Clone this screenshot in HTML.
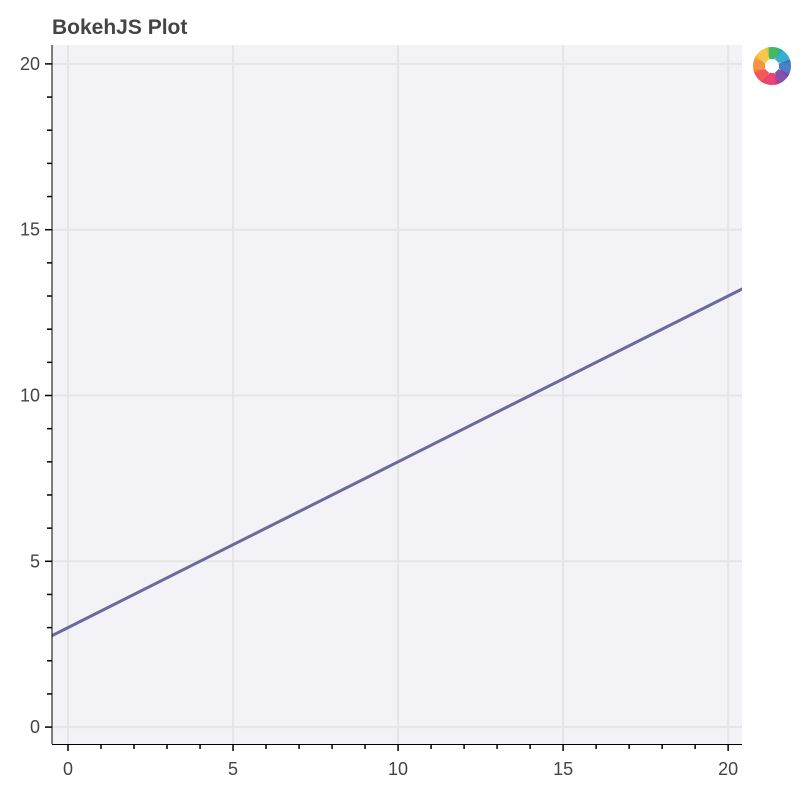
<!DOCTYPE html>
<html><head><meta charset="utf-8"><style>
html,body{margin:0;padding:0;background:#fff;width:808px;height:806px;overflow:hidden}
svg text{font-family:"Liberation Sans",sans-serif}
</style></head><body>
<svg id="c" width="808" height="806">
<text x="52" y="34" font-size="21" font-weight="bold" fill="#444">BokehJS Plot</text>
<rect x="52" y="45" width="690" height="699" fill="#f3f2f7"/>
<g id="grid"></g><g id="series"></g><g id="axes"></g>
<g id="logo" transform="translate(772,66)"></g>
</svg>
<script>
const xTicks=[0,5,10,15,20];
const yTicks=[0,5,10,15,20];
const xData=[-1,0,5,10,15,20,21];
const yData=[2.5,3,5.5,8,10.5,13,13.5];
const X0=52,X1=742,Y0=45,Y1=744;
const xMin=-0.485,xMax=20.42,yMin=-0.51,yMax=20.57;
const sx=v=>X0+(v-xMin)/(xMax-xMin)*(X1-X0);
const sy=v=>Y1-(v-yMin)/(yMax-yMin)*(Y1-Y0);
const NS="http://www.w3.org/2000/svg";
function mk(t,a,p){const e=document.createElementNS(NS,t);for(const k in a)e.setAttribute(k,a[k]);p.appendChild(e);return e;}
const grid=document.getElementById('grid'),axes=document.getElementById('axes'),ser=document.getElementById('series');
xTicks.forEach(v=>{const l=mk('line',{x1:sx(v),x2:sx(v),y1:Y0,y2:Y1,stroke:'#e5e5e5','stroke-width':2},grid);
});
yTicks.forEach(v=>{const l=mk('line',{x1:X0,x2:X1,y1:sy(v),y2:sy(v),stroke:'#e5e5e5','stroke-width':2},grid);
});
const cp=mk('clipPath',{id:'cp'},document.getElementById('c'));mk('rect',{x:X0,y:Y0,width:X1-X0,height:Y1-Y0},cp);
const pl=mk('polyline',{points:xData.map((x,i)=>sx(x)+','+sy(yData[i])).join(' '),fill:'none',stroke:'#6a6a9c','stroke-width':3,'clip-path':'url(#cp)'},ser);

mk('line',{x1:X0,x2:X0,y1:Y0,y2:Y1,stroke:'#000','stroke-width':1},axes);
mk('line',{x1:X0,x2:X1,y1:Y1+0.5,y2:Y1+0.5,stroke:'#000','stroke-width':1},axes);
for(let v=0;v<=20;v++){const major=v%5===0;
 mk('line',{x1:sx(v),x2:sx(v),y1:Y1,y2:Y1+(major?7:5),stroke:'#000','stroke-width':1.5},axes);
 mk('line',{x1:X0,x2:X0-(major?7:5),y1:sy(v),y2:sy(v),stroke:'#000','stroke-width':1.5},axes);}
xTicks.forEach(v=>{const t=mk('text',{x:sx(v),y:Y1+31,'text-anchor':'middle','font-size':18,fill:'#444'},axes);t.textContent=v;
});
yTicks.forEach(v=>{const t=mk('text',{x:X0-12,y:sy(v)+6,'text-anchor':'end','font-size':18,fill:'#444'},axes);t.textContent=v;
});
// logo ring
const logo=document.getElementById('logo');
const cols=['#2bb24c','#22a7c8','#3a6fc0','#7a3fa5','#e8306b','#f0484a','#f5892c','#f5c03a','#8cc63e'];
for(let i=0;i<8;i++){const a0=(i*45-110)*Math.PI/180,a1=a0+55*Math.PI/180,R=19,r=7;
 const d=`M${R*Math.cos(a0)},${R*Math.sin(a0)} A${R},${R} 0 0 1 ${R*Math.cos(a1)},${R*Math.sin(a1)} L${r*Math.cos(a1-0.3)},${r*Math.sin(a1-0.3)} A${r},${r} 0 0 0 ${r*Math.cos(a0)},${r*Math.sin(a0)} Z`;
 mk('path',{d:d,fill:cols[i],opacity:0.9},logo);}
</script>
</body></html>
